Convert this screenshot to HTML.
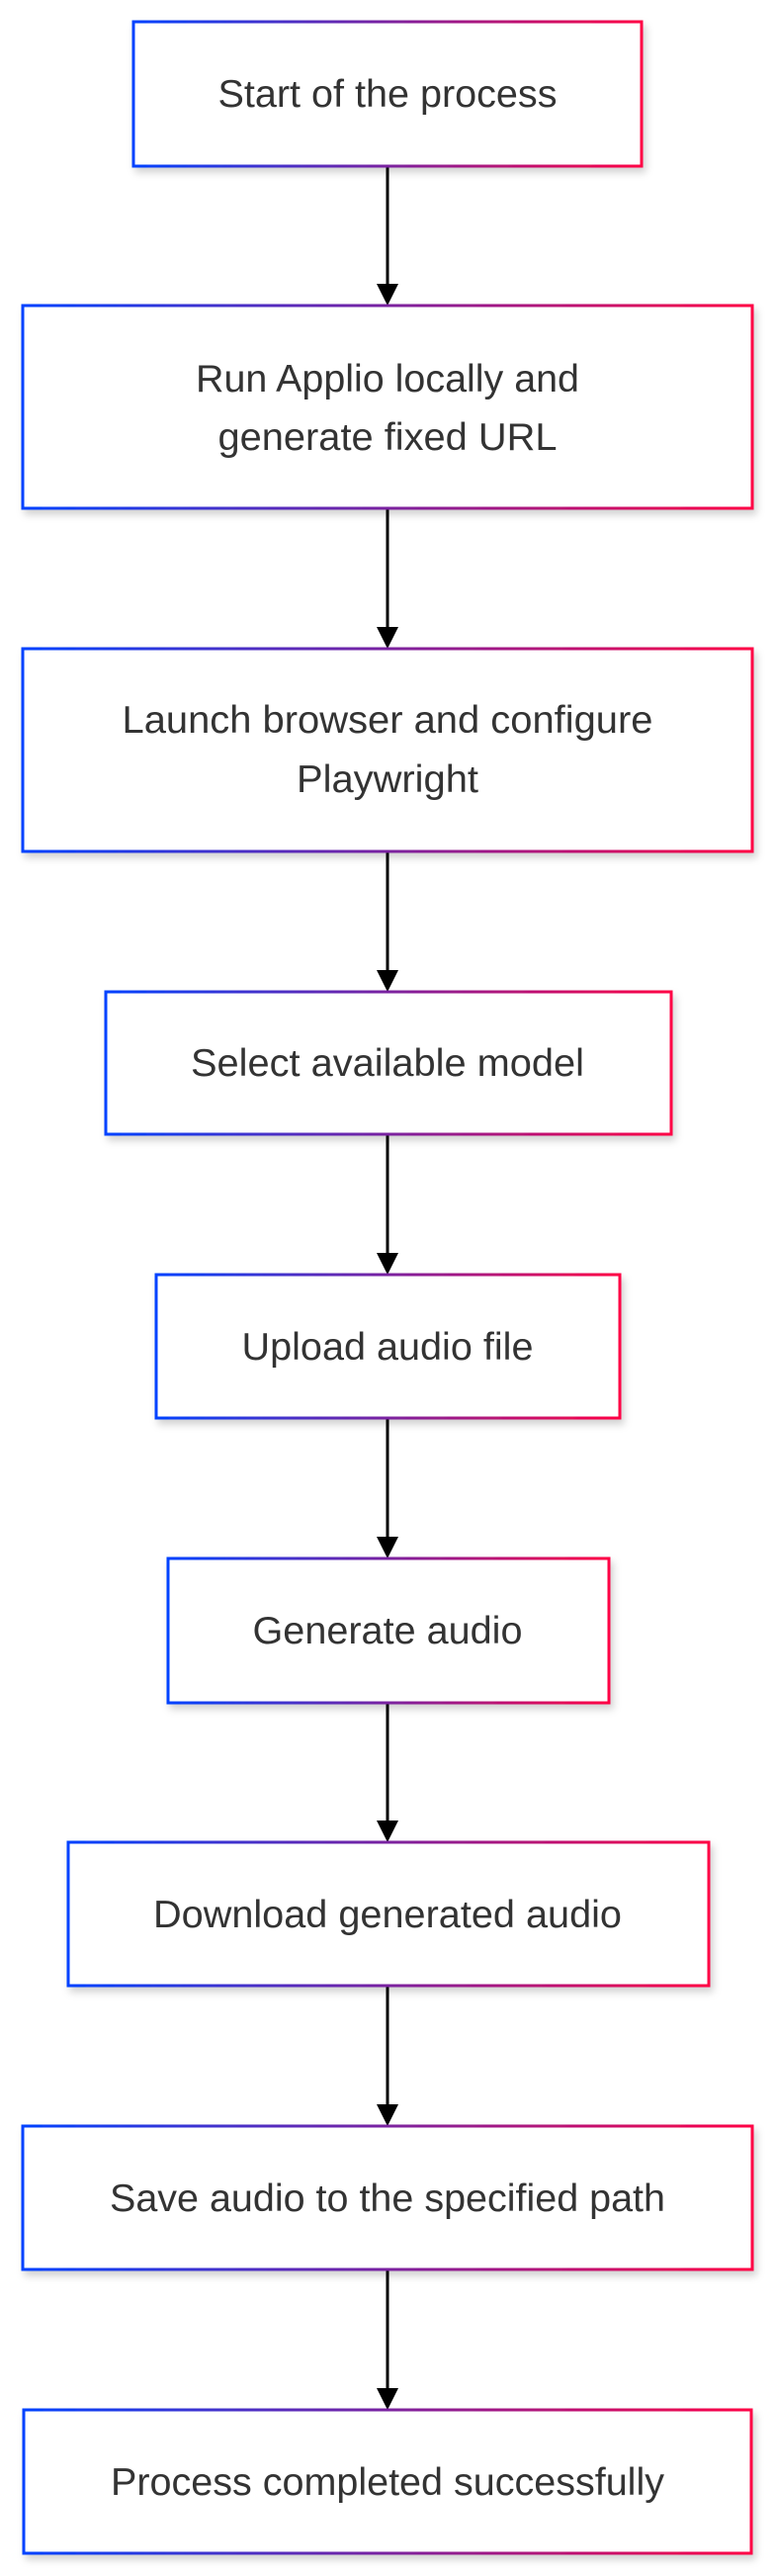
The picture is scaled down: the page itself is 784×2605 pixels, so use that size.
<!DOCTYPE html>
<html><head><meta charset="utf-8"><style>
html,body{margin:0;padding:0;background:#fff;}
svg{display:block;}
text{font-family:"Liberation Sans",Arial,sans-serif;font-size:39px;fill:#333;}
</style></head><body>
<svg width="784" height="2605" viewBox="0 0 784 2605" xmlns="http://www.w3.org/2000/svg">
<defs>
<linearGradient id="g" x1="0" y1="0" x2="1" y2="0">
<stop offset="0" stop-color="#0042ff"/><stop offset="0.5" stop-color="#7a22a0"/><stop offset="1" stop-color="#ff0044"/>
</linearGradient>
<filter id="s" x="-10%" y="-10%" width="120%" height="130%">
<feDropShadow dx="3" dy="5" stdDeviation="4" flood-color="#000" flood-opacity="0.18"/>
</filter>
</defs>
<g stroke="#000" stroke-width="3">
<line x1="392" y1="168" x2="392" y2="290"/>
<line x1="392" y1="514" x2="392" y2="637"/>
<line x1="392" y1="861" x2="392" y2="984"/>
<line x1="392" y1="1147" x2="392" y2="1270"/>
<line x1="392" y1="1434" x2="392" y2="1557"/>
<line x1="392" y1="1722" x2="392" y2="1844"/>
<line x1="392" y1="2008" x2="392" y2="2131"/>
<line x1="392" y1="2295" x2="392" y2="2418"/>
</g>
<g fill="#000">
<polygon points="381,287 403,287 392,309"/>
<polygon points="381,634 403,634 392,656"/>
<polygon points="381,981 403,981 392,1003"/>
<polygon points="381,1267 403,1267 392,1289"/>
<polygon points="381,1554 403,1554 392,1576"/>
<polygon points="381,1841 403,1841 392,1863"/>
<polygon points="381,2128 403,2128 392,2150"/>
<polygon points="381,2415 403,2415 392,2437"/>
</g>
<g fill="#fff" stroke="url(#g)" stroke-width="3" filter="url(#s)">
<rect x="135" y="22" width="514" height="146"/>
<rect x="23" y="309" width="738" height="205"/>
<rect x="23" y="656" width="738" height="205"/>
<rect x="107" y="1003" width="572" height="144"/>
<rect x="158" y="1289" width="469" height="145"/>
<rect x="170" y="1576" width="446" height="146"/>
<rect x="69" y="1863" width="648" height="145"/>
<rect x="23" y="2150" width="738" height="145"/>
<rect x="24" y="2437" width="736" height="145"/>
</g>
<g text-anchor="middle">
<text x="392" y="108" textLength="343" lengthAdjust="spacingAndGlyphs">Start of the process</text>
<text x="392" y="396" textLength="388" lengthAdjust="spacingAndGlyphs">Run Applio locally and</text>
<text x="392" y="455" textLength="343" lengthAdjust="spacingAndGlyphs">generate fixed URL</text>
<text x="392" y="741" textLength="537" lengthAdjust="spacingAndGlyphs">Launch browser and configure</text>
<text x="392" y="801" textLength="184" lengthAdjust="spacingAndGlyphs">Playwright</text>
<text x="392" y="1088" textLength="398" lengthAdjust="spacingAndGlyphs">Select available model</text>
<text x="392" y="1375" textLength="295" lengthAdjust="spacingAndGlyphs">Upload audio file</text>
<text x="392" y="1662" textLength="273" lengthAdjust="spacingAndGlyphs">Generate audio</text>
<text x="392" y="1949" textLength="474" lengthAdjust="spacingAndGlyphs">Download generated audio</text>
<text x="392" y="2236" textLength="562" lengthAdjust="spacingAndGlyphs">Save audio to the specified path</text>
<text x="392" y="2523" textLength="560" lengthAdjust="spacingAndGlyphs">Process completed successfully</text>
</g>
</svg>
</body></html>
